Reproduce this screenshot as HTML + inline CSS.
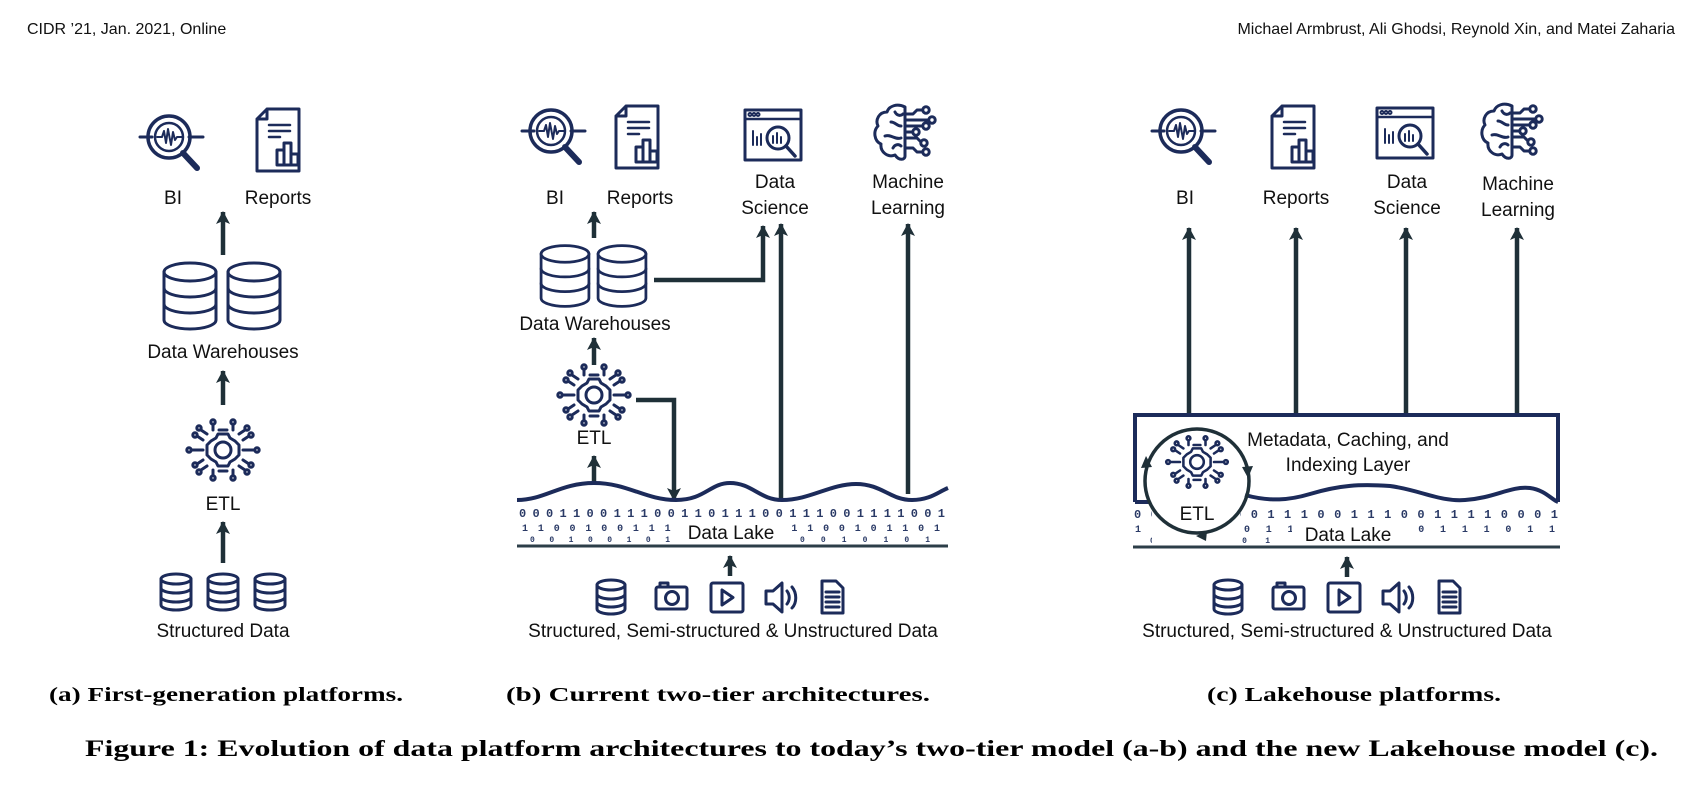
<!DOCTYPE html>
<html><head><meta charset="utf-8">
<style>
html,body{margin:0;padding:0;background:#fff;}
svg{display:block;}
.l{font-family:"Liberation Sans",sans-serif;font-size:19px;fill:#111;text-anchor:middle;}
.cap{font-family:"Liberation Serif",serif;font-weight:bold;fill:#000;}
.hd{font-family:"Liberation Sans",sans-serif;font-size:16px;fill:#111;}
.bin{font-family:"Liberation Mono",monospace;font-weight:bold;fill:#2a3a66;}
.ic{fill:none;stroke:#1c2b5a;stroke-width:3;stroke-linecap:round;stroke-linejoin:round;}
.ar{stroke:#1f3038;stroke-width:4.5;fill:none;}
</style></head><body>
<svg width="1691" height="798" viewBox="0 0 1691 798" xmlns="http://www.w3.org/2000/svg">
<defs>
<marker id="ah" markerUnits="userSpaceOnUse" markerWidth="14" markerHeight="14" refX="12" refY="7" orient="auto">
<path d="M0,0 L13,7 L0,14 L3,7 Z" fill="#1f3038"/>
</marker>
<g id="bi" class="ic">
<circle cx="-4" cy="-6" r="21" stroke-width="3.5"/>
<circle cx="-4" cy="-6" r="14" stroke-width="2.5"/>
<line x1="-33" y1="-6" x2="-21" y2="-6"/><line x1="16" y1="-6" x2="30" y2="-6"/>
<polyline points="-16,-6 -11,-6 -9,-12 -7,0 -5,-14 -2,2 0,-11 2,-3 4,-6 9,-6" stroke-width="2"/>
<line x1="10" y1="10" x2="24" y2="25" stroke-width="6"/>
</g>
<g id="rep" class="ic">
<path d="M-11,-31 H21 V31 H-21 V-21 Z M-11,-31 V-21 H-21"/>
<line x1="-9" y1="-15" x2="12" y2="-15" stroke-width="2.5"/>
<line x1="-9" y1="-9" x2="12" y2="-9" stroke-width="2.5"/>
<line x1="-9" y1="-3" x2="2" y2="-3" stroke-width="2.5"/>
<rect x="-1" y="10" width="7" height="15"/><rect x="6" y="3" width="7" height="22"/><rect x="13" y="14" width="7" height="11"/>
</g>
<g id="db" class="ic">
<ellipse cx="0" cy="-24" rx="26" ry="9"/>
<path d="M-26,-24 V24 A26,9 0 0 0 26,24 V-24"/>
<path d="M-26,-8 A26,9 0 0 0 26,-8 M-26,8 A26,9 0 0 0 26,8"/>
</g>
<g id="dbs" class="ic" stroke-width="2.5">
<ellipse cx="0" cy="-13" rx="15" ry="5"/>
<path d="M-15,-13 V13 A15,5 0 0 0 15,13 V-13"/>
<path d="M-15,-4 A15,5 0 0 0 15,-4 M-15,5 A15,5 0 0 0 15,5"/>
</g>
<g id="etl" class="ic" stroke-width="2.2">
<circle r="8"/>
<path d="M-5,-16 H5 L7,-12 L12,-9 L16,-5 V5 L12,9 L7,12 L5,16 H-5 L-7,12 L-12,9 L-16,5 V-5 L-12,-9 L-7,-12 Z"/>
<path d="M-10,-20 V-26 M10,-20 V-26 M-4,-20 H4 M-20,-10 L-26,-14 M20,-10 L26,-14 M-20,0 H-32 M20,0 H32 M-20,10 L-26,14 M20,10 L26,14 M-10,20 V26 M10,20 V26 M-4,21 H4 M-16,-16 L-22,-20 M16,-16 L22,-20 M-16,16 L-22,20 M16,16 L22,20"/>
<g fill="#fff"><circle cx="-10" cy="-28" r="2.2"/><circle cx="10" cy="-28" r="2.2"/><circle cx="-24" cy="-22" r="2.2"/><circle cx="24" cy="-22" r="2.2"/><circle cx="-28" cy="-15" r="2.2"/><circle cx="28" cy="-15" r="2.2"/><circle cx="-34" cy="0" r="2.2"/><circle cx="34" cy="0" r="2.2"/><circle cx="-28" cy="15" r="2.2"/><circle cx="28" cy="15" r="2.2"/><circle cx="-24" cy="22" r="2.2"/><circle cx="24" cy="22" r="2.2"/><circle cx="-10" cy="28" r="2.2"/><circle cx="10" cy="28" r="2.2"/></g>
</g>
<g id="ds" class="ic">
<rect x="-28" y="-27" width="56" height="50"/>
<line x1="-28" y1="-18" x2="28" y2="-18" stroke-width="2.5"/>
<circle cx="-23" cy="-22.5" r="1" /><circle cx="-19" cy="-22.5" r="1"/><circle cx="-15" cy="-22.5" r="1"/>
<path d="M-20,-6 V8 M-16,0 V8 M-12,-3 V8" stroke-width="2"/>
<circle cx="5" cy="1" r="11"/>
<path d="M0,-1 V6 M4,-4 V6 M8,0 V6" stroke-width="2"/>
<line x1="13" y1="9" x2="22" y2="19" stroke-width="3.5"/>
</g>
<g id="ml" class="ic" stroke-width="2.6">
<path d="M2,-27 C-6,-31 -14,-28 -16,-22 C-24,-22 -28,-14 -25,-8 C-30,-3 -29,7 -22,10 C-23,18 -15,24 -8,21 C-4,27 2,26 2,22 Z"/>
<path d="M-12,-12 C-8,-12 -6,-8 -2,-8 M-18,2 C-12,0 -8,6 -2,4 M-10,14 C-8,10 -4,10 -2,12 M-8,-22 C-6,-18 -2,-18 0,-20"/>
<path d="M2,-20 H10 L14,-24 H20 M2,-8 H20 M2,4 H14 L18,8 M2,14 H10 L14,18 H20 M2,-14 H26 M2,-2 H10"/>
<g fill="#fff"><circle cx="23" cy="-24" r="3.2"/><circle cx="29" cy="-14" r="3.2"/><circle cx="23" cy="-8" r="3.2"/><circle cx="21" cy="9" r="3.2"/><circle cx="23" cy="18" r="3.2"/><circle cx="13" cy="-2" r="3.2"/></g>
</g>
<g id="src">
<g class="ic" stroke-width="2.5">
<ellipse cx="0" cy="-12" rx="14" ry="5"/><path d="M-14,-12 V12 A14,5 0 0 0 14,12 V-12 M-14,-3 A14,5 0 0 0 14,-3 M-14,5 A14,5 0 0 0 14,5"/>
<rect x="45" y="-10" width="31" height="22" rx="2"/><path d="M49,-10 V-14 H57 V-10"/><circle cx="61" cy="1" r="6.5"/>
<rect x="100" y="-14" width="32" height="29" rx="2"/><path d="M111,-7 V8 L122,0.5 Z"/>
<path d="M155,-6 H162 L171,-14 V15 L162,7 H155 Z M176,-6 C179,-2 179,3 176,7 M181,-10 C186,-4 186,6 181,11"/>
<path d="M211,-16 H225 L232,-9 V16 H211 Z M215,-5 H228 M215,0 H228 M215,5 H228 M215,10 H228"/>
</g></g>
</defs>

<text x="27" y="34" class="hd">CIDR ’21, Jan. 2021, Online</text>
<text x="1675" y="34" class="hd" text-anchor="end">Michael Armbrust, Ali Ghodsi, Reynold Xin, and Matei Zaharia</text>

<!-- Panel A -->
<use href="#bi" x="173" y="143"/>
<use href="#rep" x="278" y="140"/>
<text x="173" y="204" class="l">BI</text>
<text x="278" y="204" class="l">Reports</text>
<line x1="223" y1="255" x2="223" y2="212" class="ar" marker-end="url(#ah)"/>
<use href="#db" x="190" y="296"/>
<use href="#db" x="254" y="296"/>
<text x="223" y="358" class="l">Data Warehouses</text>
<line x1="223" y1="405" x2="223" y2="371" class="ar" marker-end="url(#ah)"/>
<use href="#etl" x="223" y="450"/>
<text x="223" y="510" class="l">ETL</text>
<line x1="223" y1="563" x2="223" y2="522" class="ar" marker-end="url(#ah)"/>
<use href="#dbs" x="176" y="592"/>
<use href="#dbs" x="223" y="592"/>
<use href="#dbs" x="270" y="592"/>
<text x="223" y="637" class="l">Structured Data</text>

<!-- Panel B -->
<use href="#bi" x="555" y="137"/>
<use href="#rep" x="637" y="137"/>
<use href="#ds" x="773" y="137"/>
<use href="#ml" x="903" y="134"/>
<text x="555" y="204" class="l">BI</text>
<text x="640" y="204" class="l">Reports</text>
<text x="775" y="188" class="l">Data</text>
<text x="775" y="214" class="l">Science</text>
<text x="908" y="188" class="l">Machine</text>
<text x="908" y="214" class="l">Learning</text>
<line x1="594" y1="238" x2="594" y2="212" class="ar" marker-end="url(#ah)"/>
<use href="#db" x="565" y="276" transform="translate(565 276) scale(0.92) translate(-565 -276)"/>
<use href="#db" x="622" y="276" transform="translate(622 276) scale(0.92) translate(-622 -276)"/>
<text x="595" y="330" class="l">Data Warehouses</text>
<polyline points="654,280 763,280 763,226" class="ar" marker-end="url(#ah)"/>
<line x1="781" y1="500" x2="781" y2="224" class="ar" marker-end="url(#ah)"/>
<line x1="908" y1="494" x2="908" y2="224" class="ar" marker-end="url(#ah)"/>
<line x1="594" y1="365" x2="594" y2="338" class="ar" marker-end="url(#ah)"/>
<use href="#etl" x="594" y="395"/>
<text x="594" y="444" class="l">ETL</text>
<line x1="594" y1="484" x2="594" y2="456" class="ar" marker-end="url(#ah)"/>
<polyline points="636,400 674,400 674,500" class="ar" marker-end="url(#ah)"/>
<path d="M517,500 C545,500 560,483 594,483 C628,483 645,500 676,500 C705,500 710,483 730,483 C752,483 760,500 782,500 C810,500 830,484 856,484 C882,484 890,500 912,500 C930,500 938,492 948,488" fill="none" stroke="#1c2b5a" stroke-width="4"/>
<line x1="517" y1="546" x2="948" y2="546" stroke="#2c3e48" stroke-width="3"/>
<text class="bin" font-size="12" x="519" y="517" textLength="426" lengthAdjust="spacing">00011001110011011100111001111001</text>
<text class="bin" font-size="10" x="522" y="531" textLength="418" lengthAdjust="spacing">110010011100110111100101101</text>
<text class="bin" font-size="8" x="530" y="542" textLength="140" lengthAdjust="spacing">00100101</text>
<text class="bin" font-size="8" x="800" y="542" textLength="130" lengthAdjust="spacing">0010101</text>
<rect x="675" y="518" width="112" height="24" fill="#fff"/>
<text x="731" y="539" class="l">Data Lake</text>
<line x1="730" y1="576" x2="730" y2="556" class="ar" marker-end="url(#ah)"/>
<use href="#src" x="611" y="597"/>
<text x="733" y="637" class="l">Structured, Semi-structured &amp; Unstructured Data</text>

<!-- Panel C -->
<use href="#bi" x="1185" y="137"/>
<use href="#rep" x="1293" y="137"/>
<use href="#ds" x="1405" y="135"/>
<use href="#ml" x="1510" y="133"/>
<text x="1185" y="204" class="l">BI</text>
<text x="1296" y="204" class="l">Reports</text>
<text x="1407" y="188" class="l">Data</text>
<text x="1407" y="214" class="l">Science</text>
<text x="1518" y="190" class="l">Machine</text>
<text x="1518" y="216" class="l">Learning</text>
<line x1="1189" y1="414" x2="1189" y2="228" class="ar" marker-end="url(#ah)"/>
<line x1="1296" y1="414" x2="1296" y2="228" class="ar" marker-end="url(#ah)"/>
<line x1="1406" y1="414" x2="1406" y2="228" class="ar" marker-end="url(#ah)"/>
<line x1="1517" y1="414" x2="1517" y2="228" class="ar" marker-end="url(#ah)"/>
<path d="M1135,502 V415 H1558 V502" fill="none" stroke="#1c2b5a" stroke-width="4"/>
<path d="M1135,502 H1150 M1245,495 C1270,502 1290,500 1310,494 C1340,485 1360,484 1390,486 C1420,490 1440,502 1465,500 C1495,498 1510,486 1530,488 C1545,490 1552,500 1558,502" fill="none" stroke="#1c2b5a" stroke-width="4"/>
<line x1="1133" y1="547" x2="1560" y2="547" stroke="#2c3e48" stroke-width="3"/>
<text class="bin" font-size="12" x="1134" y="518" textLength="424" lengthAdjust="spacing">00011000111001110011110001</text>
<text class="bin" font-size="10" x="1135" y="532" textLength="420" lengthAdjust="spacing">11110011001110111011</text>
<text class="bin" font-size="8" x="1150" y="543" textLength="120" lengthAdjust="spacing">001001</text>
<rect x="1292" y="520" width="112" height="24" fill="#fff"/>
<rect x="1152" y="505" width="88" height="40" fill="#fff"/>
<text x="1348" y="541" class="l">Data Lake</text>
<circle cx="1197" cy="481" r="52" fill="none" stroke="#1f3038" stroke-width="3.5"/>
<path d="M1141,468 L1146,456 L1152,467 Z M1253,466 L1248,478 L1242,467 Z M1207,531 L1196,536 L1206,541 Z" fill="#1f3038"/>
<use href="#etl" x="1197" y="462" transform="translate(1197 462) scale(0.85) translate(-1197 -462)"/>
<text x="1197" y="520" class="l">ETL</text>
<text x="1348" y="446" class="l">Metadata, Caching, and</text>
<text x="1348" y="471" class="l">Indexing Layer</text>
<line x1="1347" y1="577" x2="1347" y2="557" class="ar" marker-end="url(#ah)"/>
<use href="#src" x="1228" y="597"/>
<text x="1347" y="637" class="l">Structured, Semi-structured &amp; Unstructured Data</text>

<!-- captions -->
<text x="49" y="701" class="cap" font-size="20" textLength="354" lengthAdjust="spacingAndGlyphs">(a) First-generation platforms.</text>
<text x="506" y="701" class="cap" font-size="20" textLength="424" lengthAdjust="spacingAndGlyphs">(b) Current two-tier architectures.</text>
<text x="1207" y="701" class="cap" font-size="20" textLength="294" lengthAdjust="spacingAndGlyphs">(c) Lakehouse platforms.</text>
<text x="85" y="756" class="cap" font-size="23" textLength="1573" lengthAdjust="spacingAndGlyphs">Figure 1: Evolution of data platform architectures to today’s two-tier model (a-b) and the new Lakehouse model (c).</text>
</svg>
</body></html>
